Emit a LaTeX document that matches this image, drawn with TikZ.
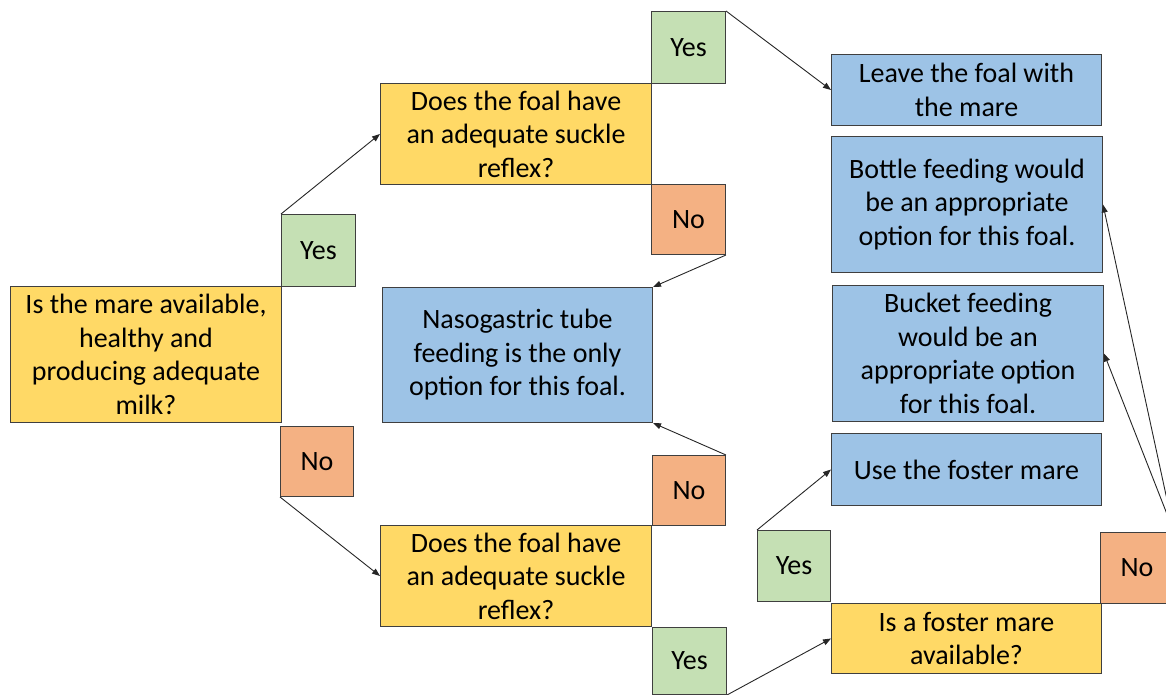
\documentclass[tikz,border=0pt]{standalone}
\usepackage{fontspec}
\setmainfont{Carlito}
\usetikzlibrary{arrows.meta}
\definecolor{qy}{HTML}{FFD966}
\definecolor{yg}{HTML}{C5E0B4}
\definecolor{no}{HTML}{F4B183}
\definecolor{bl}{HTML}{9DC3E6}
\definecolor{bord}{HTML}{3F3F3F}
\definecolor{lin}{HTML}{262626}
\begin{document}
\begin{tikzpicture}[x=1pt,y=-1pt,
  box/.style={draw=bord, line width=1pt, rectangle, inner sep=0pt, anchor=north west,
    align=center, font=\fontsize{28}{33.5}\selectfont},
  conn/.style={draw=lin, line width=0.9pt, -{Triangle[length=8pt,width=6pt]}}]
\useasboundingbox (0,0) rectangle (1166,695);
\clip (0,0) rectangle (1166,695);
% questions
\node[box,fill=qy,minimum width=271pt,minimum height=136pt] (q1) at (10,286) {Is the mare available,\\healthy and\\producing adequate\\milk?};
\node[box,fill=qy,minimum width=271pt,minimum height=101pt] (q2) at (380,83) {Does the foal have\\an adequate suckle\\reflex?};
\node[box,fill=qy,minimum width=271pt,minimum height=101pt] (q3) at (380,525) {Does the foal have\\an adequate suckle\\reflex?};
\node[box,fill=qy,minimum width=270pt,minimum height=70pt] (fq) at (831,603) {Is a foster mare\\available?};
% outcomes
\node[box,fill=bl,minimum width=270pt,minimum height=135pt] (naso) at (382,287) {Nasogastric tube\\feeding is the only\\option for this foal.};
\node[box,fill=bl,minimum width=270pt,minimum height=71pt] (leave) at (831,54) {Leave the foal with\\the mare};
\node[box,fill=bl,minimum width=271pt,minimum height=136pt] (bottle) at (831,136) {Bottle feeding would\\be an appropriate\\option for this foal.};
\node[box,fill=bl,minimum width=271pt,minimum height=136pt] (bucket) at (832,285) {Bucket feeding\\would be an\\appropriate option\\for this foal.};
\node[box,fill=bl,minimum width=270pt,minimum height=72pt] (foster) at (831,433) {Use the foster mare};
% yes / no labels
\node[box,fill=yg,minimum width=74pt,minimum height=72pt] (y1) at (281,214) {Yes};
\node[box,fill=no,minimum width=73pt,minimum height=70pt] (n1) at (280,426) {No};
\node[box,fill=yg,minimum width=74pt,minimum height=72pt] (y2) at (651,11) {Yes};
\node[box,fill=no,minimum width=74pt,minimum height=70pt] (n2) at (651,184) {No};
\node[box,fill=no,minimum width=73pt,minimum height=70pt] (n3) at (652,455) {No};
\node[box,fill=yg,minimum width=74pt,minimum height=67pt] (y3) at (652,627) {Yes};
\node[box,fill=yg,minimum width=73pt,minimum height=71pt] (y4) at (757,530) {Yes};
\node[box,fill=no,minimum width=73pt,minimum height=71pt] (n4) at (1100,532) {No};
% connectors
\draw[conn] (y1.north west) -- (q2.west);
\draw[conn] (n1.south west) -- (q3.west);
\draw[conn] (y2.north east) -- (leave.west);
\draw[conn] (n2.south east) -- (naso.north east);
\draw[conn] (n3.north east) -- (naso.south east);
\draw[conn] (y3.south east) -- (fq.west);
\draw[conn] (y4.north west) -- (foster.west);
\draw[conn] (n4.north east) -- (bottle.east);
\draw[conn] (n4.north east) -- (bucket.east);
\end{tikzpicture}
\end{document}
